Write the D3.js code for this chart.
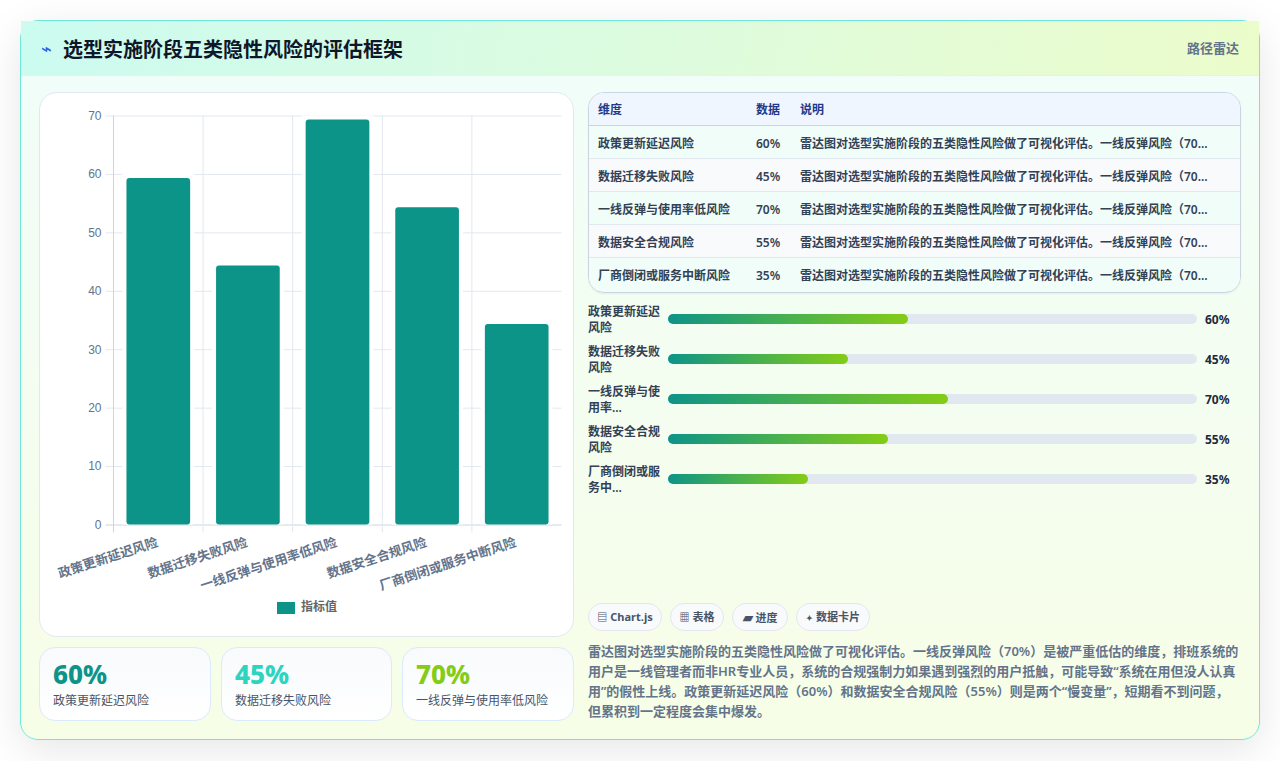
<!DOCTYPE html>
<html lang="zh-CN">
<head>
<meta charset="utf-8">
<title>选型实施阶段五类隐性风险的评估框架</title>
<script src="https://cdn.jsdelivr.net/npm/d3@7/dist/d3.min.js"></script>
<style>
  html, body { margin: 0; padding: 0; width: 1280px; height: 761px; overflow: hidden; background: #fff; }
  body { font-family: "Noto Sans", "Noto Sans CJK SC", sans-serif; position: relative; }
  .abs { position: absolute; box-sizing: border-box; }
  #card { left: 20px; top: 20px; width: 1240px; height: 720px; border-radius: 18px; border: 1px solid #6ee7d8;
          background: linear-gradient(180deg, #f0fdfa, #f7fee7); box-shadow: 0 10px 40px rgba(0,0,0,.1); }
  #head { left: 21px; top: 21px; width: 1238px; height: 55px; background: linear-gradient(100deg, #ccfbf1, #ecfccb); border-bottom: 1px solid #e2f3ea; }
  #icon { left: 41px; top: 36px; font: 700 18px/26px "DejaVu Sans"; color: #2563eb; }
  #title { left: 63px; top: 35px; font-size: 20px; line-height: 30px; font-weight: 700; color: #0f172a; white-space: nowrap; }
  #tag { right: 41px; top: 39px; font-size: 13px; line-height: 18px; font-weight: 600; color: #64748b; }
  .panel { background: #fff; border: 1px solid #e2e8f0; border-radius: 18px; }
  .stat { background: linear-gradient(180deg, #f8fafc, #ffffff); border: 1px solid #dbeafe; border-radius: 16px; }
  .stat .num { position: absolute; left: 13px; top: 9px; font-size: 26px; line-height: 34px; font-weight: 800; white-space: nowrap; }
  .stat .lab { position: absolute; left: 13px; top: 44px; font-size: 12px; line-height: 18px; color: #475569; white-space: nowrap; }
  #tbl { left: 588px; top: 92px; width: 653px; height: 201px; border: 1px solid #cbd5e1; border-radius: 16px; overflow: hidden; box-shadow: 0 1px 2px rgba(15,23,42,.06); }
  #tbl .hdr { position: absolute; box-sizing: border-box; left: 0; top: 0; width: 100%; height: 33px; background: #eff6ff; border-bottom: 1px solid #cbd5e1; }
  #tbl .row { position: absolute; box-sizing: border-box; left: 0; width: 100%; height: 33px; border-bottom: 1px solid #e2e8f0; }
  #tbl .row:last-child { border-bottom: 0; }
  #tbl span { position: absolute; top: 1px; line-height: 33px; font-size: 12px; font-weight: 600; color: #334155; white-space: nowrap; }
  #tbl .hdr span { color: #1e3a8a; top: 0; }
  .plabel { left: 588px; width: 76px; font-size: 12px; line-height: 15.5px; font-weight: 600; color: #334155; }
  .chip { top: 603px; height: 28px; border: 1px solid #e2e8f0; border-radius: 14px; background: #f8fafc; font-size: 11px; line-height: 26px;
          font-weight: 700; color: #475569; text-align: center; white-space: nowrap; }
  #para { left: 588px; top: 641px; width: 655px; font-size: 13px; line-height: 20px; font-weight: 600; color: #64748b; }
  svg { position: absolute; overflow: visible; }
</style>
</head>
<body>
<script>
// Risk dimensions and their scores
const categories = ["政策更新延迟风险", "数据迁移失败风险", "一线反弹与使用率低风险", "数据安全合规风险", "厂商倒闭或服务中断风险"];
const values = [60, 45, 70, 55, 35];
const yTicks = [0, 10, 20, 30, 40, 50, 60, 70];
const legendLabel = "指标值";
const progressLabels = [["政策更新延迟", "风险"], ["数据迁移失败", "风险"], ["一线反弹与使", "用率..."], ["数据安全合规", "风险"], ["厂商倒闭或服", "务中..."]];
const statColors = ["#0d9488", "#2dd4bf", "#84cc16"];
const tableHeaders = ["维度", "数据", "说明"];
const rowNote = "雷达图对选型实施阶段的五类隐性风险做了可视化评估。一线反弹风险（70...";
const chipIcons = ["▤", "▦", "▰", "✦"];
const chipTexts = ["Chart.js", "表格", "进度", "数据卡片"];
const chipLeft = [588, 670, 732, 796];
const chipWidth = [74, 54, 56, 74];
const chipIconSize = [10, 10, 13, 8];
const paragraphLines = [
  "雷达图对选型实施阶段的五类隐性风险做了可视化评估。一线反弹风险（70%）是被严重低估的维度，排班系统的",
  "用户是一线管理者而非HR专业人员，系统的合规强制力如果遇到强烈的用户抵触，可能导致“系统在用但没人认真",
  "用”的假性上线。政策更新延迟风险（60%）和数据安全合规风险（55%）则是两个“慢变量”，短期看不到问题，",
  "但累积到一定程度会集中爆发。"
];

const body = d3.select("body");
const box = (id, cls) => body.append("div").attr("id", id).attr("class", "abs " + (cls || ""));

box("card");
box("head");
box("icon").text("⌁");
box("title").text("选型实施阶段五类隐性风险的评估框架");
box("tag").text("路径雷达");

// Bar chart panel
box("chartPanel", "panel").style("left", "39px").style("top", "92px").style("width", "535px").style("height", "545px");

const svg = body.append("svg").attr("width", 1280).attr("height", 761).style("left", 0).style("top", 0);
const x = d3.scaleBand().domain(categories).range([113.5, 561.5]);
const y = d3.scaleLinear().domain([0, 70]).range([524.5, 115.5]);
const gridColor = "#e2e8f0", axisColor = "#cbd5e1";

const yAxis = svg.append("g").attr("transform", "translate(113.5,0)")
  .call(d3.axisLeft(y).tickValues(yTicks).tickSize(8).tickPadding(4));
yAxis.select(".domain").remove();
yAxis.selectAll("line").attr("x1", -8).attr("x2", 448).attr("stroke", d => d === 0 ? axisColor : gridColor);
yAxis.selectAll("text").attr("fill", "#64748b").style("font", "12px 'Liberation Sans'").attr("dy", "0.32em");

// Vertical grid lines sit at the band edges and run down through the tick marks
const edges = d3.range(categories.length + 1).map(i => 113.5 + i * x.bandwidth());
svg.append("g").selectAll("line").data(edges.slice(0, -1)).join("line")
  .attr("x1", d => d).attr("x2", d => d).attr("y1", y(70)).attr("y2", y(0) + 8)
  .attr("stroke", (d, i) => i === 0 ? axisColor : gridColor);

// Each bar carries a 4px white border on its top and sides, with the value at the outer edge
const barWidth = x.bandwidth() * 0.8, border = 4;
const bars = svg.append("g").selectAll("g").data(values).join("g")
  .attr("transform", (d, i) => `translate(${x(categories[i]) + (x.bandwidth() - barWidth) / 2},0)`);
bars.append("rect").attr("width", barWidth).attr("y", d => y(d)).attr("height", d => y(0) - y(d)).attr("fill", "#fff");
bars.append("rect").attr("x", border).attr("width", barWidth - 2 * border)
  .attr("y", d => y(d) + border).attr("height", d => y(0) - y(d) - border)
  .attr("rx", 3).attr("fill", "#0d9488");

// Slanted category labels, anchored at their right end beneath each bar
svg.append("g").selectAll("text").data(categories).join("text")
  .attr("transform", d => `translate(${x(d) + x.bandwidth() / 2 + 0.5},${y(0) + 21.5}) rotate(-18)`)
  .attr("text-anchor", "end")
  .attr("fill", "#64748b").style("font", "600 13px 'Liberation Sans','Noto Sans CJK SC'")
  .text(d => d);

// Legend
svg.append("rect").attr("x", 277).attr("y", 602).attr("width", 18).attr("height", 12).attr("fill", "#0d9488");
svg.append("text").attr("x", 301).attr("y", 611).attr("fill", "#666").style("font", "600 12px 'Liberation Sans','Noto Sans CJK SC'").text(legendLabel);

// Summary cards for the first three dimensions
const statX = [39, 221, 402], statW = [172, 171, 172];
values.slice(0, 3).forEach((v, i) => {
  const c = box("stat" + i, "stat").style("left", statX[i] + "px").style("top", "647px").style("width", statW[i] + "px").style("height", "74px");
  c.append("div").attr("class", "num").style("color", statColors[i]).text(v + "%");
  c.append("div").attr("class", "lab").text(categories[i]);
});

// Data table
const tbl = box("tbl");
const colX = [9, 167, 211];
const hdr = tbl.append("div").attr("class", "hdr");
hdr.selectAll("span").data(tableHeaders).join("span").style("left", (d, i) => colX[i] + "px").text(d => d);
categories.forEach((c, i) => {
  const r = tbl.append("div").attr("class", "row").style("top", (33 + i * 33) + "px")
    .style("background", i % 2 ? "#f8fafc" : "#f0fdf8");
  [c, values[i] + "%", rowNote].forEach((t, j) => r.append("span").style("left", colX[j] + "px").text(t));
});

// Progress rows: 4px of fill per point on a shared track
const fill = d3.scaleLinear().domain([0, 100]).range([0, 400]);
const defs = svg.append("defs");
const rowY = d3.scalePoint().domain(d3.range(5)).range([319, 479]);
const prog = svg.append("g");
values.forEach((v, i) => {
  const cy = rowY(i);
  const grad = defs.append("linearGradient").attr("id", "pg" + i);
  grad.append("stop").attr("offset", 0).attr("stop-color", "#0d9488");
  grad.append("stop").attr("offset", 1).attr("stop-color", "#84cc16");
  prog.append("rect").attr("x", 668).attr("y", cy - 5).attr("width", 529).attr("height", 10).attr("rx", 5).attr("fill", "#e2e8f0");
  prog.append("rect").attr("x", 668).attr("y", cy - 5).attr("width", fill(v)).attr("height", 10).attr("rx", 5).attr("fill", `url(#pg${i})`);
  prog.append("text").attr("x", 1205).attr("y", cy + 5).attr("fill", "#1e293b")
    .style("font", "700 12px 'Noto Sans','Noto Sans CJK SC'").text(v + "%");
  box("pl" + i, "plabel").style("top", (cy - 15) + "px").html(progressLabels[i].join("<br>"));
});

// Feature chips and the closing paragraph
chipTexts.forEach((t, i) => {
  const chip = box("chip" + i, "chip").style("left", chipLeft[i] + "px").style("width", chipWidth[i] + "px");
  chip.append("span").style("font-size", chipIconSize[i] + "px").style("margin-right", "3px").text(chipIcons[i]);
  chip.append("span").text(t);
});
const para = box("para");
para.selectAll("div").data(paragraphLines).join("div").style("white-space", "nowrap").text(d => d);
</script>
</body>
</html>
